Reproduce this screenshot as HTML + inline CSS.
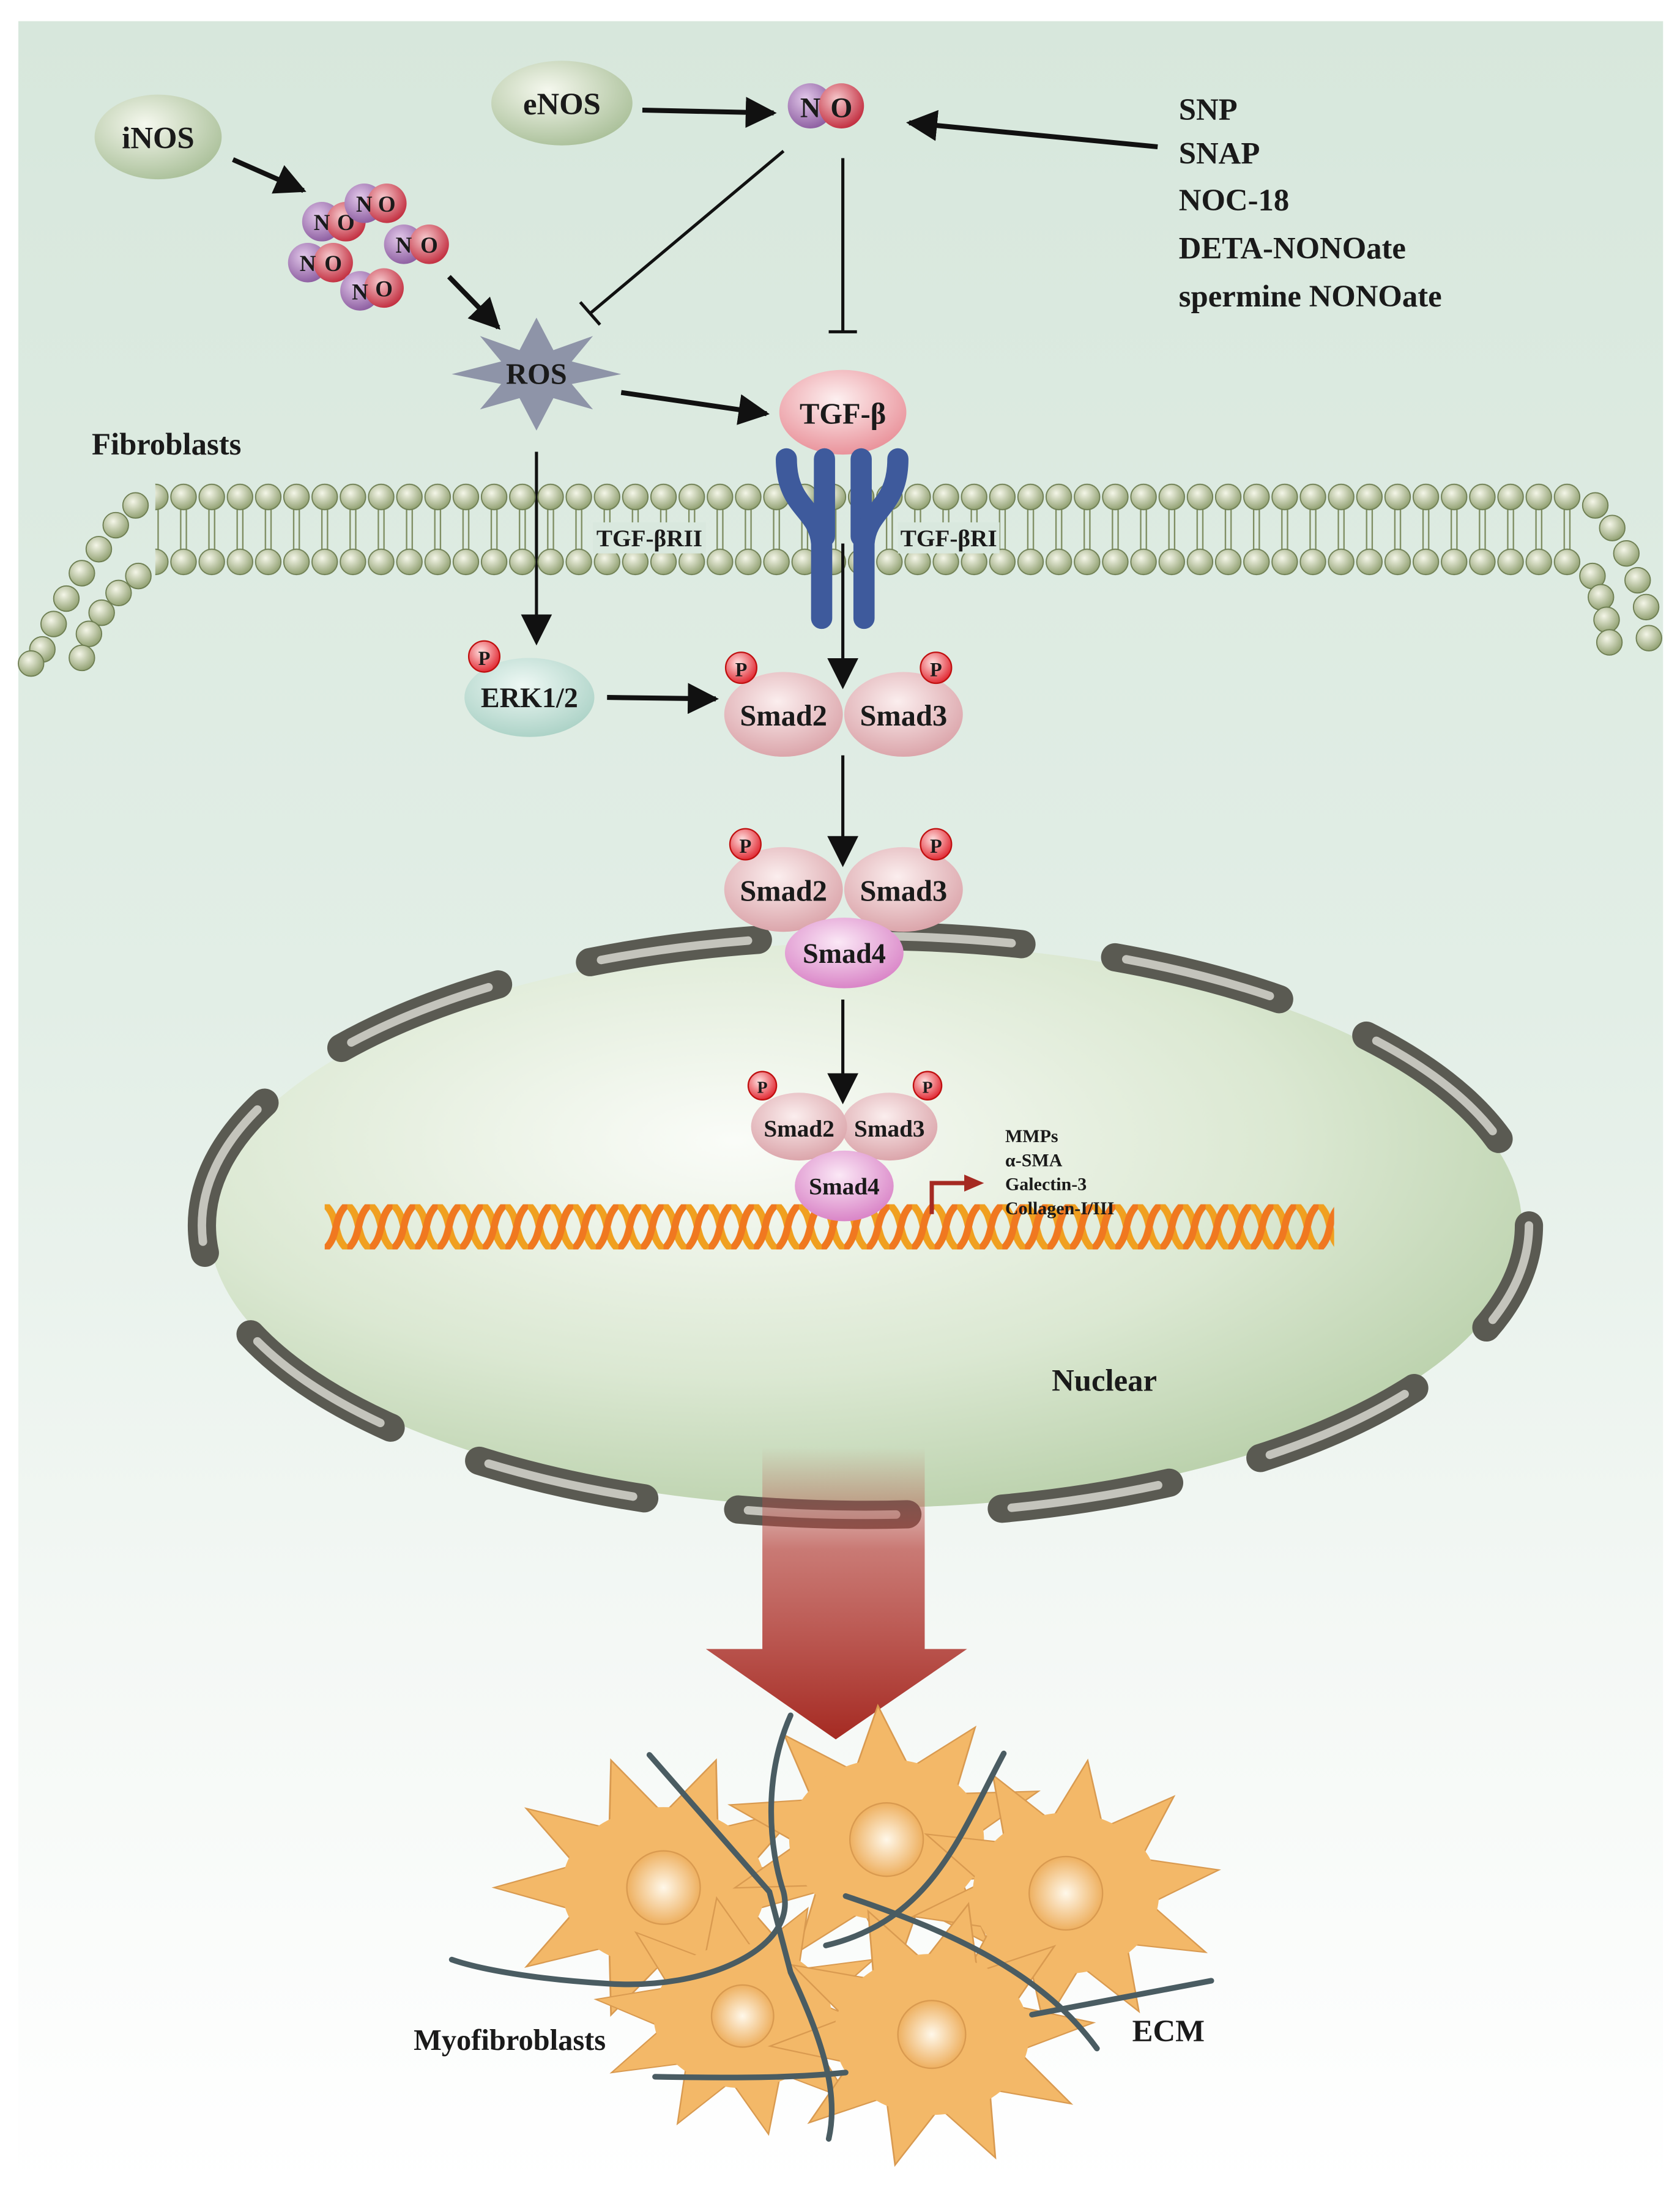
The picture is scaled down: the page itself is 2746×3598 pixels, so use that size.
<!DOCTYPE html>
<html><head><meta charset="utf-8">
<style>
html,body{margin:0;padding:0;background:#fff;}
svg{display:block;}
text{font-family:"Liberation Serif",serif;font-weight:bold;fill:#1a1a1a;}
</style></head>
<body>
<svg width="2746" height="3598" viewBox="0 0 1190 1559" preserveAspectRatio="none" xmlns="http://www.w3.org/2000/svg">
<defs>
<linearGradient id="bg" x1="0" y1="0" x2="0" y2="1">
<stop offset="0" stop-color="#d7e7dc"/><stop offset="0.45" stop-color="#e2eee6"/><stop offset="0.75" stop-color="#f4f8f5"/><stop offset="1" stop-color="#ffffff"/>
</linearGradient>
<radialGradient id="gball" cx="0.4" cy="0.35" r="0.7"><stop offset="0" stop-color="#f5f8ee"/><stop offset="1" stop-color="#a9bf98"/></radialGradient>
<radialGradient id="erk" cx="0.45" cy="0.35" r="0.7"><stop offset="0" stop-color="#eef8f4"/><stop offset="1" stop-color="#a8d0c4"/></radialGradient>
<radialGradient id="pink" cx="0.45" cy="0.35" r="0.7"><stop offset="0" stop-color="#fbeeee"/><stop offset="1" stop-color="#d9a0a6"/></radialGradient>
<radialGradient id="tgf" cx="0.45" cy="0.35" r="0.7"><stop offset="0" stop-color="#fdf0f0"/><stop offset="1" stop-color="#e88c95"/></radialGradient>
<radialGradient id="mag" cx="0.45" cy="0.35" r="0.7"><stop offset="0" stop-color="#fbe8f6"/><stop offset="1" stop-color="#d77ec4"/></radialGradient>
<radialGradient id="nO" cx="0.4" cy="0.35" r="0.7"><stop offset="0" stop-color="#f6c8cc"/><stop offset="1" stop-color="#c0283a"/></radialGradient>
<radialGradient id="nN" cx="0.4" cy="0.35" r="0.7"><stop offset="0" stop-color="#e2c8ea"/><stop offset="1" stop-color="#8a5a9e"/></radialGradient>
<radialGradient id="pg" cx="0.4" cy="0.35" r="0.7"><stop offset="0" stop-color="#ffe0e0"/><stop offset="1" stop-color="#e0202a"/></radialGradient>
<radialGradient id="nuc" cx="0.4" cy="0.35" r="0.7"><stop offset="0" stop-color="#fafcf8"/><stop offset="0.6" stop-color="#dbe8d2"/><stop offset="1" stop-color="#b9d0aa"/></radialGradient>
<radialGradient id="lip" cx="0.4" cy="0.35" r="0.7"><stop offset="0" stop-color="#f4f6e8"/><stop offset="1" stop-color="#8c9c6c"/></radialGradient>
<radialGradient id="cellN" cx="0.5" cy="0.5" r="0.5"><stop offset="0" stop-color="#fff8ea"/><stop offset="1" stop-color="#eeb060"/></radialGradient>
<linearGradient id="bigArrow" x1="0" y1="0" x2="0" y2="1">
<stop offset="0" stop-color="#c0504a" stop-opacity="0"/><stop offset="0.35" stop-color="#b8443e" stop-opacity="0.7"/><stop offset="1" stop-color="#a52a22"/>
</linearGradient>
<pattern id="memb" x="0" y="342" width="20" height="66" patternUnits="userSpaceOnUse">
<line x1="8" y1="19" x2="8" y2="47" stroke="#7d8c60" stroke-width="1"/>
<line x1="12" y1="19" x2="12" y2="47" stroke="#7d8c60" stroke-width="1"/>
<circle cx="10" cy="10" r="9" fill="url(#lip)" stroke="#6e7e52" stroke-width="0.8"/>
<circle cx="10" cy="56" r="9" fill="url(#lip)" stroke="#6e7e52" stroke-width="0.8"/>
</pattern>
<pattern id="dna" x="230" y="853" width="16" height="32" patternUnits="userSpaceOnUse">
<path d="M0,0 C11,10 5,22 16,32" stroke="#f0a020" stroke-width="5" fill="none"/>
<path d="M16,0 C5,10 11,22 0,32" stroke="#f07820" stroke-width="5" fill="none"/>
</pattern>
<marker id="ah2" viewBox="0 0 10 10" refX="9" refY="5" markerWidth="22" markerHeight="22" orient="auto" markerUnits="userSpaceOnUse">
<path d="M0,0 L10,5 L0,10 z" fill="#111"/></marker>
<g id="cell">
<polygon points="100,0 52,17 81,59 32,44 31,95 0,55 -31,95 -32,44 -81,59 -52,17 -100,0 -52,-17 -81,-59 -32,-44 -31,-95 0,-55 31,-95 32,-44 81,-59 52,-17" fill="#f3b868" stroke="#d99a50" stroke-width="1"/>
<circle r="60" fill="#f3b868"/>
</g>
</defs>

<rect x="0" y="0" width="1190" height="1559" fill="#fff"/>
<rect x="13" y="15" width="1165" height="1532" fill="url(#bg)"/>

<ellipse cx="112" cy="97" rx="45" ry="30" fill="url(#gball)"/>
<text x="112" y="105" font-size="22" text-anchor="middle">iNOS</text>
<ellipse cx="398" cy="73" rx="50" ry="30" fill="url(#gball)"/>
<text x="398" y="81" font-size="22" text-anchor="middle">eNOS</text>

<circle cx="574" cy="75" r="16" fill="url(#nN)"/><circle cx="596" cy="75" r="16" fill="url(#nO)"/>
<text x="574" y="83" font-size="20" text-anchor="middle">N</text><text x="596" y="83" font-size="20" text-anchor="middle">O</text>

<g font-size="22">
<text x="835" y="85">SNP</text><text x="835" y="116">SNAP</text><text x="835" y="149">NOC-18</text><text x="835" y="183">DETA-NONOate</text><text x="835" y="217">spermine NONOate</text>
</g>

<g stroke="#111" stroke-width="3.5" fill="none">
<line x1="455" y1="78" x2="548" y2="80" marker-end="url(#ah2)"/>
<line x1="820" y1="104" x2="644" y2="87" marker-end="url(#ah2)"/>
<line x1="165" y1="113" x2="215" y2="135" marker-end="url(#ah2)"/>
<line x1="318" y1="196" x2="353" y2="232" marker-end="url(#ah2)"/>
<line x1="440" y1="278" x2="543" y2="293" marker-end="url(#ah2)"/>
<line x1="430" y1="494" x2="507" y2="495" marker-end="url(#ah2)"/>
</g>
<g stroke="#111" stroke-width="2.2">
<line x1="555" y1="107" x2="418" y2="222"/><line x1="411" y1="214" x2="425" y2="230"/>
<line x1="597" y1="112" x2="597" y2="235"/><line x1="587" y1="235" x2="607" y2="235"/>
<line x1="380" y1="320" x2="380" y2="455" marker-end="url(#ah2)" />
<line x1="597" y1="535" x2="597" y2="612" marker-end="url(#ah2)"/>
</g>

<g font-size="16" text-anchor="middle">
<circle cx="228" cy="157" r="14" fill="url(#nN)"/><circle cx="245" cy="157" r="14" fill="url(#nO)"/>
<text x="228" y="163">N</text><text x="245" y="163">O</text>
<circle cx="258" cy="144" r="14" fill="url(#nN)"/><circle cx="274" cy="144" r="14" fill="url(#nO)"/>
<text x="258" y="150">N</text><text x="274" y="150">O</text>
<circle cx="286" cy="173" r="14" fill="url(#nN)"/><circle cx="304" cy="173" r="14" fill="url(#nO)"/>
<text x="286" y="179">N</text><text x="304" y="179">O</text>
<circle cx="218" cy="186" r="14" fill="url(#nN)"/><circle cx="236" cy="186" r="14" fill="url(#nO)"/>
<text x="218" y="192">N</text><text x="236" y="192">O</text>
<circle cx="255" cy="206" r="14" fill="url(#nN)"/><circle cx="272" cy="204" r="14" fill="url(#nO)"/>
<text x="255" y="212">N</text><text x="272" y="210">O</text>
</g>

<polygon points="380,225 392,248 420,238 405,256 440,265 405,272 420,290 392,282 380,305 368,282 340,290 355,272 320,265 355,256 340,238 368,248" fill="#8e94a8"/>
<text x="380" y="272" font-size="21" text-anchor="middle">ROS</text>

<ellipse cx="597" cy="292" rx="45" ry="30" fill="url(#tgf)"/>
<text x="597" y="300" font-size="21" text-anchor="middle">TGF-β</text>

<text x="65" y="322" font-size="22">Fibroblasts</text>

<rect x="110" y="342" width="1010" height="66" fill="url(#memb)"/>
<g fill="url(#lip)" stroke="#6e7e52" stroke-width="0.8">
<circle cx="96" cy="358" r="9"/><circle cx="82" cy="372" r="9"/><circle cx="70" cy="389" r="9"/><circle cx="58" cy="406" r="9"/><circle cx="47" cy="424" r="9"/><circle cx="38" cy="442" r="9"/><circle cx="30" cy="460" r="9"/><circle cx="22" cy="470" r="9"/>
<circle cx="98" cy="408" r="9"/><circle cx="84" cy="420" r="9"/><circle cx="72" cy="434" r="9"/><circle cx="63" cy="449" r="9"/><circle cx="58" cy="466" r="9"/>
<circle cx="1130" cy="358" r="9"/><circle cx="1142" cy="374" r="9"/><circle cx="1152" cy="392" r="9"/><circle cx="1160" cy="411" r="9"/><circle cx="1166" cy="430" r="9"/><circle cx="1168" cy="452" r="9"/>
<circle cx="1128" cy="408" r="9"/><circle cx="1134" cy="423" r="9"/><circle cx="1138" cy="439" r="9"/><circle cx="1140" cy="455" r="9"/>
</g>
<g font-size="17" text-anchor="middle">
<rect x="420" y="370" width="80" height="22" fill="#d9e8de"/>
<rect x="636" y="370" width="72" height="22" fill="#d9e8de"/>
<text x="460" y="387">TGF-βRII</text><text x="672" y="387">TGF-βRI</text>
</g>
<g stroke="#3e5a9c" stroke-width="15" fill="none" stroke-linecap="round">
<path d="M557,325 C557,360 580,360 582,385 L582,438"/>
<path d="M584,325 L584,380"/>
<path d="M610,325 L610,380"/>
<path d="M636,325 C636,360 614,360 612,385 L612,438"/>
</g>
<line x1="597" y1="385" x2="597" y2="486" stroke="#111" stroke-width="2.2" marker-end="url(#ah2)"/>

<ellipse cx="375" cy="494" rx="46" ry="28" fill="url(#erk)"/>
<text x="375" y="501" font-size="20" text-anchor="middle">ERK1/2</text>
<circle cx="343" cy="465" r="11" fill="url(#pg)" stroke="#c01010"/><text x="343" y="471" font-size="14" text-anchor="middle">P</text>

<ellipse cx="640" cy="506" rx="42" ry="30" fill="url(#pink)"/>
<ellipse cx="555" cy="506" rx="42" ry="30" fill="url(#pink)"/>
<text x="555" y="514" font-size="21" text-anchor="middle">Smad2</text><text x="640" y="514" font-size="21" text-anchor="middle">Smad3</text>
<circle cx="525" cy="473" r="11" fill="url(#pg)" stroke="#c01010"/><text x="525" y="479" font-size="14" text-anchor="middle">P</text>
<circle cx="663" cy="473" r="11" fill="url(#pg)" stroke="#c01010"/><text x="663" y="479" font-size="14" text-anchor="middle">P</text>

<ellipse cx="613" cy="868" rx="465" ry="200" fill="url(#nuc)"/>
<ellipse cx="613" cy="868" rx="470" ry="205" fill="none" stroke="#5a5a52" stroke-width="20" stroke-dasharray="120 67" stroke-dashoffset="40" stroke-linecap="round"/>
<ellipse cx="613" cy="868" rx="470" ry="205" fill="none" stroke="#c4c4bc" stroke-width="6" stroke-dasharray="105 82" stroke-dashoffset="32" stroke-linecap="round"/>

<ellipse cx="640" cy="630" rx="42" ry="30" fill="url(#pink)"/>
<ellipse cx="555" cy="630" rx="42" ry="30" fill="url(#pink)"/>
<ellipse cx="598" cy="675" rx="42" ry="25" fill="url(#mag)"/>
<text x="555" y="638" font-size="21" text-anchor="middle">Smad2</text><text x="640" y="638" font-size="21" text-anchor="middle">Smad3</text>
<text x="598" y="682" font-size="20" text-anchor="middle">Smad4</text>
<circle cx="528" cy="598" r="11" fill="url(#pg)" stroke="#c01010"/><text x="528" y="604" font-size="14" text-anchor="middle">P</text>
<circle cx="663" cy="598" r="11" fill="url(#pg)" stroke="#c01010"/><text x="663" y="604" font-size="14" text-anchor="middle">P</text>
<line x1="597" y1="708" x2="597" y2="780" stroke="#111" stroke-width="2.2" marker-end="url(#ah2)"/>

<rect x="230" y="853" width="715" height="32" fill="url(#dna)"/>

<ellipse cx="630" cy="798" rx="34" ry="24" fill="url(#pink)"/>
<ellipse cx="566" cy="798" rx="34" ry="24" fill="url(#pink)"/>
<ellipse cx="598" cy="840" rx="35" ry="25" fill="url(#mag)"/>
<text x="566" y="805" font-size="17" text-anchor="middle">Smad2</text><text x="630" y="805" font-size="17" text-anchor="middle">Smad3</text>
<text x="598" y="846" font-size="17" text-anchor="middle">Smad4</text>
<circle cx="540" cy="769" r="10" fill="url(#pg)" stroke="#c01010"/><text x="540" y="774" font-size="12" text-anchor="middle">P</text>
<circle cx="657" cy="769" r="10" fill="url(#pg)" stroke="#c01010"/><text x="657" y="774" font-size="12" text-anchor="middle">P</text>

<path d="M660,860 L660,838 L685,838" stroke="#a52a22" stroke-width="3" fill="none"/>
<path d="M683,832 L697,838 L683,844 z" fill="#a52a22"/>
<g font-size="13">
<text x="712" y="809">MMPs</text><text x="712" y="826">α-SMA</text><text x="712" y="843">Galectin-3</text><text x="712" y="860">Collagen-I/III</text>
</g>
<text x="745" y="985" font-size="22">Nuclear</text>

<path d="M540,1025 L655,1025 L655,1168 L685,1168 L592,1232 L500,1168 L540,1168 z" fill="url(#bigArrow)"/>

<use href="#cell" transform="translate(470,1337) scale(1.2,0.95)"/>
<use href="#cell" transform="translate(628,1303) scale(1.15,0.95) rotate(15)"/>
<use href="#cell" transform="translate(755,1341) scale(1.1,0.95) rotate(-10)"/>
<use href="#cell" transform="translate(526,1428) scale(1.05,0.85) rotate(8)"/>
<use href="#cell" transform="translate(660,1441) scale(1.15,0.95) rotate(-5)"/>
<g fill="url(#cellN)" stroke="#d99a50" stroke-width="1">
<circle cx="470" cy="1337" r="26"/><circle cx="628" cy="1303" r="26"/><circle cx="755" cy="1341" r="26"/><circle cx="526" cy="1428" r="22"/><circle cx="660" cy="1441" r="24"/>
</g>
<g stroke="#4a5c62" stroke-width="4" fill="none" stroke-linecap="round">
<path d="M560,1215 C540,1260 545,1310 555,1340 C565,1380 500,1410 430,1405 C380,1402 340,1395 320,1388"/>
<path d="M460,1243 L545,1340 L560,1397 C580,1440 595,1480 587,1515"/>
<path d="M711,1242 C680,1300 660,1360 585,1378"/>
<path d="M599,1343 C680,1370 740,1400 777,1451"/>
<path d="M858,1403 L731,1427"/>
<path d="M464,1471 C520,1472 560,1472 599,1468"/>
</g>
<text x="293" y="1452" font-size="21">Myofibroblasts</text>
<text x="802" y="1446" font-size="22">ECM</text>
</svg>
</body></html>
